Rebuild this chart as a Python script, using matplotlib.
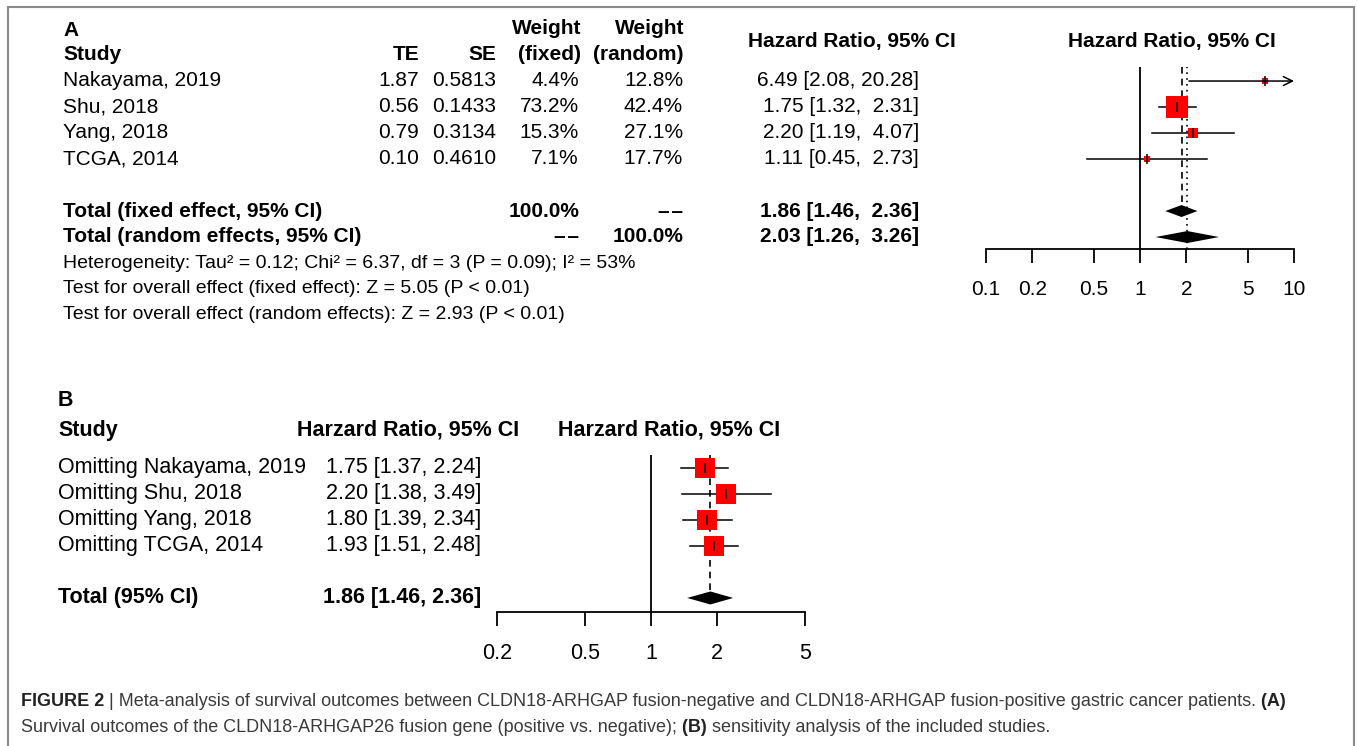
import matplotlib
matplotlib.use("Agg")
import matplotlib.pyplot as plt
from matplotlib.patches import Rectangle

plt.rcParams['font.family'] = ['Liberation Sans', 'DejaVu Sans']

# ---- data: panel A (individual studies) ----
studies = ["Nakayama, 2019", "Shu, 2018", "Yang, 2018", "TCGA, 2014"]
te = [1.87, 0.56, 0.79, 0.10]
se = [0.5813, 0.1433, 0.3134, 0.4610]
w_fixed = [4.4, 73.2, 15.3, 7.1]
w_random = [12.8, 42.4, 27.1, 17.7]
hr = [6.49, 1.75, 2.20, 1.11]
hr_lo = [2.08, 1.32, 1.19, 0.45]
hr_hi = [20.28, 2.31, 4.07, 2.73]
fixed_est = [1.86, 1.46, 2.36]
random_est = [2.03, 1.26, 3.26]
het_lines = ["Heterogeneity: Tau\u00b2 = 0.12; Chi\u00b2 = 6.37, df = 3 (P = 0.09); I\u00b2 = 53%",
             "Test for overall effect (fixed effect): Z = 5.05 (P < 0.01)",
             "Test for overall effect (random effects): Z = 2.93 (P < 0.01)"]
ticks_a = [0.1, 0.2, 0.5, 1, 2, 5, 10]

# ---- data: panel B (leave-one-out) ----
omit_labels = ["Omitting Nakayama, 2019", "Omitting Shu, 2018", "Omitting Yang, 2018", "Omitting TCGA, 2014"]
omit_hr = [1.75, 2.20, 1.80, 1.93]
omit_lo = [1.37, 1.38, 1.39, 1.51]
omit_hi = [2.24, 3.49, 2.34, 2.48]
omit_total = [1.86, 1.46, 2.36]
ticks_b = [0.2, 0.5, 1, 2, 5]

W, H = 1357, 746
fig = plt.figure(figsize=(W / 100, H / 100), dpi=100)
FS = 15
FSB = 15.5
DASH = "\u2013\u200a\u2013"


def fx(x):
    return x / W


def fy(y):
    return 1 - y / H


def txt(x, y, s, ha='left', bold=False, size=FS, **kw):
    return fig.text(fx(x), fy(y), s, ha=ha, va='center', fontsize=size,
                    fontweight='bold' if bold else 'normal', **kw)


def forest_axes(left, right, top, bottom, xlim, ylim, ticks, size):
    ax = fig.add_axes([fx(left), fy(bottom), (right - left) / W, (bottom - top) / H])
    ax.set_xscale('log')
    ax.set_xlim(*xlim)
    ax.set_ylim(*ylim)
    for s in ['top', 'left', 'right']:
        ax.spines[s].set_visible(False)
    ax.spines['bottom'].set_linewidth(1.3)
    ax.set_yticks([])
    ax.set_xticks(ticks)
    ax.set_xticklabels([f"{t:g}" for t in ticks])
    ax.xaxis.set_minor_locator(matplotlib.ticker.NullLocator())
    ax.tick_params(axis='x', direction='out', length=10, width=1.3, pad=12, labelsize=size)
    ax.patch.set_alpha(0)
    return ax


def diamond(ax, est, lo, hi, row, h):
    ax.fill([lo, est, hi, est], [row, row - h, row, row + h], color='black', lw=0)


# outer frame
fig.add_artist(Rectangle((fx(8), fy(760)), (1354 - 8) / W, (760 - 7) / H, transform=fig.transFigure,
                         fill=False, edgecolor='#8a8a8a', lw=1.5))

# ---------------- Panel A table ----------------
txt(63, 30, "A", bold=True)
txt(63, 55, "Study", bold=True)
txt(419, 55, "TE", ha='right', bold=True)
txt(496, 55, "SE", ha='right', bold=True)
txt(581, 29, "Weight", ha='right', bold=True)
txt(581, 55, "(fixed)", ha='right', bold=True)
txt(684, 29, "Weight", ha='right', bold=True)
txt(684, 55, "(random)", ha='right', bold=True)
txt(852, 41, "Hazard Ratio, 95% CI", ha='center', bold=True)
txt(1172, 41, "Hazard Ratio, 95% CI", ha='center', bold=True)

row_y = [81 + 26 * i for i in range(7)]
for i, name in enumerate(studies):
    y = row_y[i]
    txt(63, y, name)
    txt(419, y, f"{te[i]:.2f}", ha='right')
    txt(496, y, f"{se[i]:.4f}", ha='right')
    txt(579, y, f"{w_fixed[i]:.1f}%", ha='right')
    txt(683, y, f"{w_random[i]:.1f}%", ha='right')
    txt(919, y, f"{hr[i]:.2f} [{hr_lo[i]:.2f}, {hr_hi[i]:5.2f}]", ha='right')

txt(63, row_y[5], "Total (fixed effect, 95% CI)", bold=True)
txt(579, row_y[5], "100.0%", ha='right', bold=True)
txt(683, row_y[5], DASH, ha='right', bold=True)
txt(919, row_y[5], f"{fixed_est[0]:.2f} [{fixed_est[1]:.2f}, {fixed_est[2]:5.2f}]", ha='right', bold=True)
txt(63, row_y[6], "Total (random effects, 95% CI)", bold=True)
txt(579, row_y[6], DASH, ha='right', bold=True)
txt(683, row_y[6], "100.0%", ha='right', bold=True)
txt(919, row_y[6], f"{random_est[0]:.2f} [{random_est[1]:.2f}, {random_est[2]:5.2f}]", ha='right', bold=True)

for k, line in enumerate(het_lines):
    txt(63, 264 + 25 * k, line, size=14)

# ---------------- Panel A forest ----------------
axa = forest_axes(986, 1294, 67, 249, (0.1, 10), (6.46, -0.54), ticks_a, FS)
axa.axvline(1, color='black', lw=1.3)
axa.plot([fixed_est[0]] * 2, [-0.54, 5.23], color='black', lw=1.2, ls=(0, (4, 3)))
axa.axvline(random_est[0], color='black', lw=1.2, ls=(0, (1, 2.5)))
for i in range(len(studies)):
    side = 22 * (w_fixed[i] / max(w_fixed)) ** 0.5 * 0.72
    if hr_hi[i] > 10:
        axa.annotate('', xy=(10, i), xytext=(hr_lo[i], i),
                     arrowprops=dict(arrowstyle='->', lw=1.1, color='black', shrinkA=0, shrinkB=0,
                                     mutation_scale=16))
    else:
        axa.plot([hr_lo[i], hr_hi[i]], [i, i], color='black', lw=1.1)
    axa.plot(hr[i], i, marker='s', ms=max(side, 5), color='red', mew=0, clip_on=False)
    axa.plot(hr[i], i, marker='|', ms=7, color='black', mew=1.1)
diamond(axa, *fixed_est, 5, 0.23)
diamond(axa, *random_est, 6, 0.23)

# ---------------- Panel B table ----------------
txt(58, 401, "B", bold=True, size=FSB)
txt(58, 430, "Study", bold=True, size=FSB)
txt(297, 430, "Harzard Ratio, 95% CI", bold=True, size=FSB)
txt(669, 430, "Harzard Ratio, 95% CI", ha='center', bold=True, size=FSB)
rows_b = [468 + 26 * i for i in range(6)]
for i, name in enumerate(omit_labels):
    txt(58, rows_b[i], name, size=FSB)
    txt(481, rows_b[i], f"{omit_hr[i]:.2f} [{omit_lo[i]:.2f}, {omit_hi[i]:.2f}]", ha='right', size=FSB)
txt(58, rows_b[5], "Total (95% CI)", bold=True, size=FSB)
txt(481, rows_b[5], f"{omit_total[0]:.2f} [{omit_total[1]:.2f}, {omit_total[2]:.2f}]", ha='right',
    bold=True, size=FSB)

# ---------------- Panel B forest ----------------
axb = forest_axes(497, 805, 455, 612, (0.2, 5), (5.54, -0.5), ticks_b, FSB)
axb.axvline(1, color='black', lw=1.3)
axb.plot([omit_total[0]] * 2, [-0.5, 5.25], color='black', lw=1.2, ls=(0, (4, 3)))
for i in range(len(omit_labels)):
    axb.plot([omit_lo[i], omit_hi[i]], [i, i], color='black', lw=1.1)
    axb.plot(omit_hr[i], i, marker='s', ms=20 * 0.72, color='red', mew=0)
    axb.plot(omit_hr[i], i, marker='|', ms=7, color='black', mew=1.1)
diamond(axb, *omit_total, 5, 0.25)

# ---------------- Caption ----------------
cap_font = ['Liberation Sans Narrow', 'Liberation Sans', 'DejaVu Sans']
cap_size = 13
renderer = fig.canvas.get_renderer()


def caption_line(x, y, parts):
    for s, bold in parts:
        t = fig.text(fx(x), fy(y), s, ha='left', va='center', fontsize=cap_size, family=cap_font,
                     fontweight='bold' if bold else 'normal', color='#222222' if bold else '#3a3a3a')
        x += t.get_window_extent(renderer).width


caption_line(21, 702, [("FIGURE 2", True),
                       (" | Meta-analysis of survival outcomes between CLDN18-ARHGAP fusion-negative and "
                        "CLDN18-ARHGAP fusion-positive gastric cancer patients.", False),
                       (" (A)", True)])
caption_line(21, 728, [("Survival outcomes of the CLDN18-ARHGAP26 fusion gene (positive vs. negative);", False),
                       (" (B)", True),
                       (" sensitivity analysis of the included studies.", False)])

fig.savefig("out.png", dpi=100)
